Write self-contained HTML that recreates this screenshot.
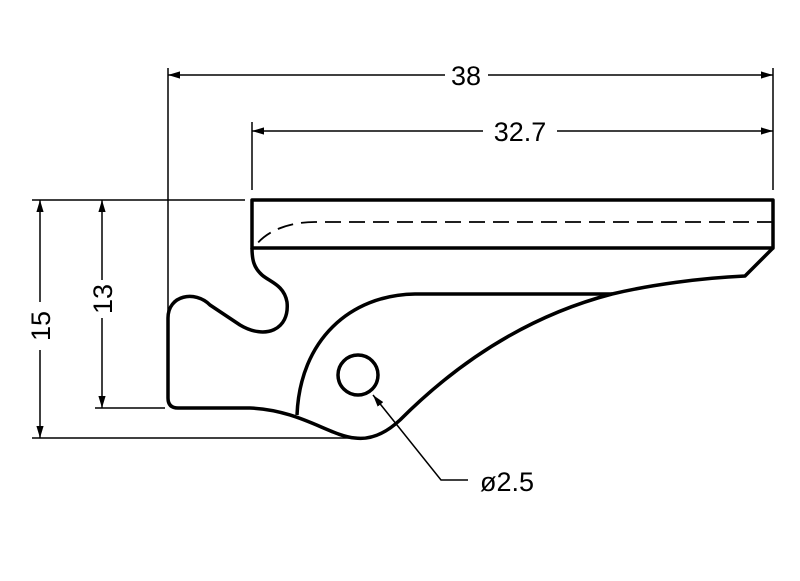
<!DOCTYPE html>
<html><head><style>html,body{margin:0;padding:0;background:#fff}</style></head>
<body>
<svg width="800" height="576" viewBox="0 0 800 576" xmlns="http://www.w3.org/2000/svg">
<defs>
<marker id="a" viewBox="0 0 10 10" refX="10" refY="5" markerWidth="12" markerHeight="12" markerUnits="userSpaceOnUse" orient="auto-start-reverse">
<path d="M0,2 L10,5 L0,8 Z" fill="#000"/></marker>
</defs>
<g stroke="#000" stroke-width="1.5" fill="none">
<!-- extension lines -->
<line x1="168" y1="68" x2="168" y2="400"/>
<line x1="252" y1="122" x2="252" y2="190"/>
<line x1="773" y1="68" x2="773" y2="190"/>
<line x1="32" y1="200" x2="245" y2="200"/>
<line x1="95" y1="408" x2="165" y2="408"/>
<line x1="32" y1="438" x2="360" y2="438"/>
<!-- dims -->
<line x1="168" y1="75" x2="445" y2="75" marker-start="url(#a)"/>
<line x1="488" y1="75" x2="773" y2="75" marker-end="url(#a)"/>
<line x1="252" y1="131" x2="483" y2="131" marker-start="url(#a)"/>
<line x1="557" y1="131" x2="773" y2="131" marker-end="url(#a)"/>
<line x1="40" y1="200" x2="40" y2="302" marker-start="url(#a)"/>
<line x1="40" y1="350" x2="40" y2="438" marker-end="url(#a)"/>
<line x1="102" y1="200" x2="102" y2="280" marker-start="url(#a)"/>
<line x1="102" y1="318" x2="102" y2="408" marker-end="url(#a)"/>
<!-- leader -->
<polyline points="468,480 441,480 373,395" marker-end="url(#a)"/>
</g>
<g stroke="#000" stroke-width="3.5" fill="none" stroke-linejoin="round">
<rect x="252" y="200" width="521" height="48"/>
<path d="M773,248 L745,276 C700,278 650,285 612,294 C520,318 450,370 400,420 C385,434 370,440 355,438 C330,436 300,410 250,408 L178,408 Q168,408 168,398 L168,318 C168,295 195,290 210,305 L240,325 C265,340 290,330 287,302 C284,285 270,282 262,275 C254,268 252,260 252,248"/>
<path d="M297,415 C300,340 350,295 415,294 L612,294"/>
<circle cx="358" cy="375" r="20"/>
</g>
<path d="M773,222 L315,222 C290,222 268,230 256,245" stroke="#000" stroke-width="1.8" fill="none" stroke-dasharray="16,8"/>
<g font-family="'Liberation Sans',sans-serif" font-size="27" fill="#000">
<text x="466" y="85" text-anchor="middle">38</text>
<text x="520" y="141" text-anchor="middle">32.7</text>
<text x="507" y="491" text-anchor="middle">ø2.5</text>
<text transform="translate(50,326) rotate(-90)" text-anchor="middle">15</text>
<text transform="translate(112,299) rotate(-90)" text-anchor="middle">13</text>
</g>
</svg>
</body></html>
